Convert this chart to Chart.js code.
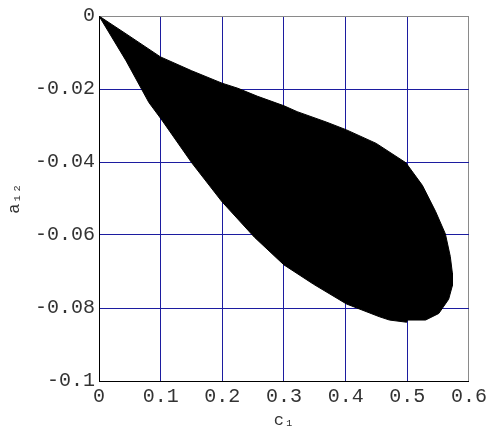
<!DOCTYPE html>
<html>
<head>
<meta charset="utf-8">
<script src="https://cdn.jsdelivr.net/npm/chart.js@4"></script>
<style>
  html, body { margin: 0; padding: 0; background: #fff; }
  #wrap { width: 491px; height: 435px; }
</style>
</head>
<body>
<div id="wrap"><canvas id="region"></canvas></div>
<script>
// boundary of the admissible region, upper edge (origin -> right tip)
const upperC1  = [0, 0.044, 0.0997, 0.1503, 0.1995, 0.2252, 0.2572, 0.300, 0.3213, 0.3694, 0.4014, 0.4495, 0.4976, 0.5244, 0.5457, 0.5617, 0.5697, 0.573];
const upperA12 = [0, -0.0049, -0.0112, -0.0150, -0.0184, -0.0198, -0.0220, -0.0246, -0.0262, -0.0291, -0.0312, -0.0349, -0.0402, -0.0464, -0.0535, -0.0597, -0.0659, -0.0704];
// lower edge (right tip -> origin)
const lowerC1  = [0.573, 0.567, 0.551, 0.5296, 0.5, 0.499, 0.471, 0.4548, 0.4014, 0.348, 0.300, 0.252, 0.1995, 0.1503, 0.1006, 0.0809, 0.044, 0];
const lowerA12 = [-0.0739, -0.0776, -0.0815, -0.0833, -0.0833, -0.0839, -0.0833, -0.0824, -0.0789, -0.0735, -0.0682, -0.0606, -0.0509, -0.0402, -0.0282, -0.0237, -0.0123, 0];

const xTickLabels = ['0', '0.1', '0.2', '0.3', '0.4', '0.5', '0.6'];
const yTickLabels = ['-0.1', '-0.08', '-0.06', '-0.04', '-0.02', '0'];

const outline = [];
upperC1.forEach((c, i) => outline.push({x: c, y: upperA12[i]}));
lowerC1.forEach((c, i) => outline.push({x: c, y: lowerA12[i]}));

const gridBlue = '#1c1ca0';
const frameGray = '#8a8a8a';
const monoFont = {family: '"Liberation Mono", "DejaVu Sans Mono", monospace', size: 20};

// last grid line on each axis is the grey frame (top / right)
const gridColor = (c, last) => c.index === last ? frameGray : gridBlue;

const ctx = document.getElementById('region').getContext('2d');
const regionChart = new Chart(ctx, {
  type: 'scatter',
  data: {
    datasets: [{
      data: outline,
      showLine: true,
      fill: 'shape',
      backgroundColor: '#000',
      borderColor: '#000',
      borderWidth: 1,
      pointRadius: 0,
      tension: 0
    }]
  },
  options: {
    responsive: true,
    maintainAspectRatio: false,
    animation: false,
    layout: { padding: { top: 6, right: 17, bottom: 0, left: 0 } },
    plugins: { legend: { display: false }, tooltip: { enabled: false } },
    scales: {
      x: {
        type: 'linear',
        min: 0,
        max: 0.6,
        afterFit: (scale) => { scale.height = 54; },
        ticks: {
          stepSize: 0.1,
          padding: 4,
          color: '#333',
          font: monoFont,
          maxRotation: 0,
          callback: (v, i) => xTickLabels[i]
        },
        grid: { drawTicks: false, color: (c) => gridColor(c, xTickLabels.length - 1), lineWidth: 1 },
        border: { color: '#000', width: 1 },
        title: {
          display: true,
          text: 'c₁',
          color: '#333',
          font: { family: monoFont.family, size: 17 },
          padding: { top: 0, bottom: 4 }
        }
      },
      y: {
        type: 'linear',
        min: -0.1,
        max: 0,
        afterFit: (scale) => { scale.width = 99; },
        ticks: {
          stepSize: 0.02,
          padding: 4,
          color: '#333',
          font: monoFont,
          callback: (v, i) => yTickLabels[i]
        },
        grid: { drawTicks: false, color: (c) => gridColor(c, yTickLabels.length - 1), lineWidth: 1 },
        border: { color: '#000', width: 1 },
        title: {
          display: true,
          text: 'a₁₂',
          color: '#333',
          font: { family: monoFont.family, size: 17 },
          padding: { top: 4, bottom: 0 }
        }
      }
    }
  }
});
</script>
</body>
</html>
